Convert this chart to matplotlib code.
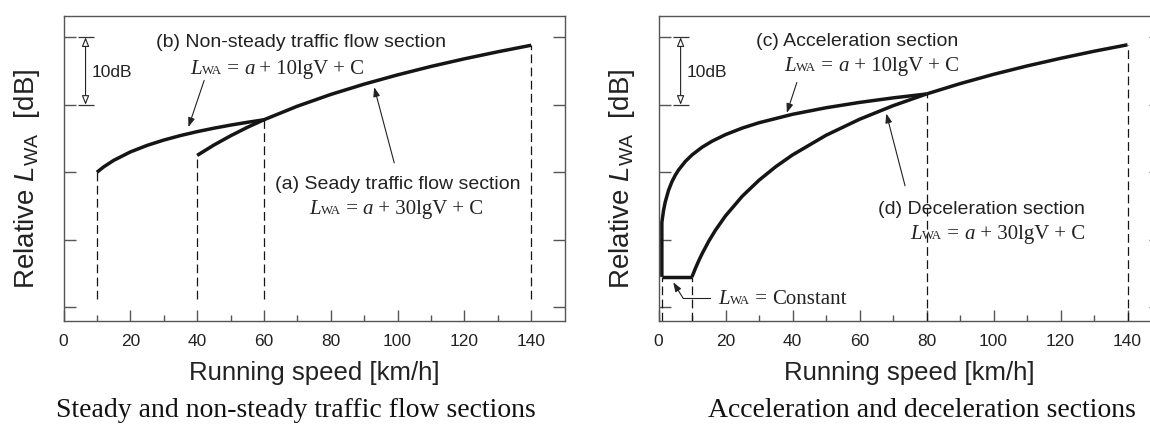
import numpy as np
import matplotlib
matplotlib.use('Agg')
import matplotlib.pyplot as plt
from matplotlib.ticker import FixedLocator
from matplotlib.offsetbox import TextArea, HPacker, AnnotationBbox

plt.rcParams['font.family'] = 'Liberation Sans'
plt.rcParams['mathtext.fontset'] = 'custom'
plt.rcParams['mathtext.rm'] = 'Liberation Sans'
plt.rcParams['mathtext.it'] = 'Liberation Sans:italic'

# ---- data (speed in km/h, relative level in dB) ----
# left panel
nonsteady_v = [10, 12, 15, 20, 25, 30, 35, 40, 45, 50, 55, 60]
nonsteady_L = [20.0, 20.79, 21.76, 23.01, 23.98, 24.77, 25.44, 26.02, 26.53, 26.99, 27.40, 27.78]
steady_v = [40, 45, 50, 55, 60, 70, 80, 90, 100, 110, 120, 130, 140]
steady_L = [22.50, 24.03, 25.40, 26.65, 27.78, 29.79, 31.53, 33.06, 34.43, 35.68, 36.81, 37.85, 38.82]
left_marks_v = [10, 40, 60, 140]
left_marks_L = [20.0, 22.50, 27.78, 38.82]

# right panel
const_v = [1, 10]
const_L = [4.5, 4.5]
accel_v = [1, 1, 1.5, 2, 3, 4, 5, 6, 8, 10, 13, 16, 20, 25, 30, 40, 50, 60, 70, 80]
accel_L = [4.5, 12.57, 14.33, 15.58, 17.34, 18.59, 19.56, 20.35, 21.60, 22.57, 23.71, 24.61,
           25.58, 26.55, 27.34, 28.59, 29.56, 30.35, 31.02, 31.60]
decel_v = [10, 11, 12, 13, 15, 17, 20, 25, 30, 35, 40, 50, 60, 70, 80]
decel_L = [4.5, 5.75, 6.88, 7.92, 9.79, 11.42, 13.54, 16.45, 18.82, 20.83, 22.57, 25.48, 27.85, 29.86, 31.60]
cruise_v = [80, 90, 100, 110, 120, 130, 140]
cruise_L = [31.60, 33.13, 34.51, 35.75, 36.88, 37.93, 38.89]
right_marks_v = [1, 10, 80, 140]
right_marks_L = [4.5, 4.5, 31.60, 38.89]

x_ticks = [0, 20, 40, 60, 80, 100, 120, 140]
x_minor = [10, 30, 50, 70, 90, 110, 130]
y_ticks = [0, 10, 20, 30, 40]

SERIF = 'Liberation Serif'
LINE = '#151515'
SPINE = '#555555'


def formula(ax, x, y, rest, align=(0.5, 0.5), fs=15):
    # L_WA = ... written with small capitals for the WA part
    parts = [TextArea('L', textprops=dict(family=SERIF, style='italic', size=fs, color='#222222')),
             TextArea('WA', textprops=dict(family=SERIF, size=fs*0.62, color='#222222')),
             TextArea(' = ', textprops=dict(family=SERIF, size=fs, color='#222222'))]
    for txt, ital in rest:
        parts.append(TextArea(txt, textprops=dict(family=SERIF, size=fs, color='#222222',
                                                  style='italic' if ital else 'normal')))
    box = HPacker(children=parts, align='baseline', pad=0, sep=0)
    ab = AnnotationBbox(box, (x, y), xycoords='data', box_alignment=align, frameon=False, pad=0)
    ax.add_artist(ab)


def arrow(ax, tail, tip):
    ax.annotate('', xy=tip, xytext=tail,
                arrowprops=dict(arrowstyle='-|>,head_length=0.55,head_width=0.2', color='#222222',
                                lw=0.8, shrinkA=0, shrinkB=0))


def setup(ax):
    ax.set_xlim(0, 150)
    ax.set_ylim(-1.99, 43.11)
    ax.xaxis.set_major_locator(FixedLocator(x_ticks))
    ax.xaxis.set_minor_locator(FixedLocator(x_minor))
    ax.yaxis.set_major_locator(FixedLocator(y_ticks))
    ax.tick_params(axis='x', which='both', direction='in', top=False, colors=SPINE,
                   labelcolor='#222222', labelsize=12.5, pad=9)
    ax.tick_params(axis='x', which='major', length=8, width=1)
    ax.tick_params(axis='x', which='minor', length=4, width=1)
    ax.tick_params(axis='y', which='major', direction='in', left=True, right=True, length=8.4,
                   width=1, colors=SPINE, labelleft=False)
    for s in ax.spines.values():
        s.set_color(SPINE)
        s.set_linewidth(1.0)
    ax.set_xlabel('Running speed [km/h]', fontsize=18.5, color='#222222', va='center')
    ax.xaxis.set_label_coords(0.5, -0.17)
    ax.set_ylabel('Relative $L_{\\mathrm{WA}}$  [dB]', fontsize=20, color='#222222', va='center')
    ax.yaxis.set_label_coords(-0.073, 0.47)
    # 10 dB scale bar
    ax.annotate('', xy=(6.6, 40), xytext=(6.6, 30),
                arrowprops=dict(arrowstyle='<|-|>,head_length=0.55,head_width=0.22', fc='white',
                                ec='#222222', lw=0.8, shrinkA=0, shrinkB=0))
    ax.plot([6.6, 6.6], [30, 40], ls='none', marker='_', ms=11, mew=0.9, color='#333333')
    ax.text(8.3, 35.0, '10dB', fontsize=12.5, ha='left', va='center', color='#222222')


fig = plt.figure(figsize=(11.5, 4.27), dpi=100)
ax1 = fig.add_axes([63.5/1150, (427-321.7)/427, 501.1/1150, 304.4/427])
ax2 = fig.add_axes([658.5/1150, (427-321.7)/427, 502.5/1150, 304.4/427])
setup(ax1)
setup(ax2)

dash = (0, (7, 3.5))

# left panel
for v, L in zip(left_marks_v, left_marks_L):
    ax1.plot([v, v], [1.23, L], ls=dash, lw=0.9, color=LINE)
ax1.plot(nonsteady_v, nonsteady_L, lw=2.5, color=LINE, solid_capstyle='butt')
ax1.plot(steady_v, steady_L, lw=2.5, color=LINE, solid_capstyle='butt')
ax1.text(71, 39.4, '(b) Non-steady traffic flow section', fontsize=14, ha='center', va='center', color='#222222')
formula(ax1, 64, 35.4, [('a', True), (' + 10lgV + C', False)])
arrow(ax1, (42.1, 33.6), (37.4, 26.7))
ax1.text(100, 18.4, '(a) Seady traffic flow section', fontsize=14, ha='center', va='center', color='#222222')
formula(ax1, 99.6, 14.6, [('a', True), (' + 30lgV + C', False)])
arrow(ax1, (99, 21.4), (93, 32.6))

# right panel
for v, L in zip(right_marks_v, right_marks_L):
    ax2.plot([v, v], [-1.99, L], ls=dash, lw=0.9, color=LINE)
ax2.plot(const_v, const_L, lw=2.5, color=LINE, solid_capstyle='butt')
ax2.plot(accel_v, accel_L, lw=2.5, color=LINE, solid_capstyle='butt')
ax2.plot(decel_v, decel_L, lw=2.5, color=LINE, solid_capstyle='butt')
ax2.plot(cruise_v, cruise_L, lw=2.5, color=LINE, solid_capstyle='butt')
ax2.text(59.4, 39.5, '(c) Acceleration section', fontsize=14, ha='center', va='center', color='#222222')
formula(ax2, 63.6, 35.8, [('a', True), (' + 10lgV + C', False)])
arrow(ax2, (41.3, 33.3), (38.3, 28.8))
ax2.text(96.3, 14.7, '(d) Deceleration section', fontsize=14, ha='center', va='center', color='#222222')
formula(ax2, 101.3, 10.9, [('a', True), (' + 30lgV + C', False)])
arrow(ax2, (73.6, 18.0), (68, 28.7))
formula(ax2, 17.9, 1.3, [('Constant', False)], align=(0, 0.5))
ax2.plot([15.4, 7.4], [1.3, 1.3], lw=0.8, color='#222222')
arrow(ax2, (7.4, 1.3), (4.4, 3.7))

fig.text(296/1150, (427-411)/427, 'Steady and non-steady traffic flow sections', family=SERIF,
         fontsize=20, ha='center', va='center', color='#111111')
fig.text(922/1150, (427-411)/427, 'Acceleration and deceleration sections', family=SERIF,
         fontsize=20, ha='center', va='center', color='#111111')

fig.savefig('out.png', dpi=100)
